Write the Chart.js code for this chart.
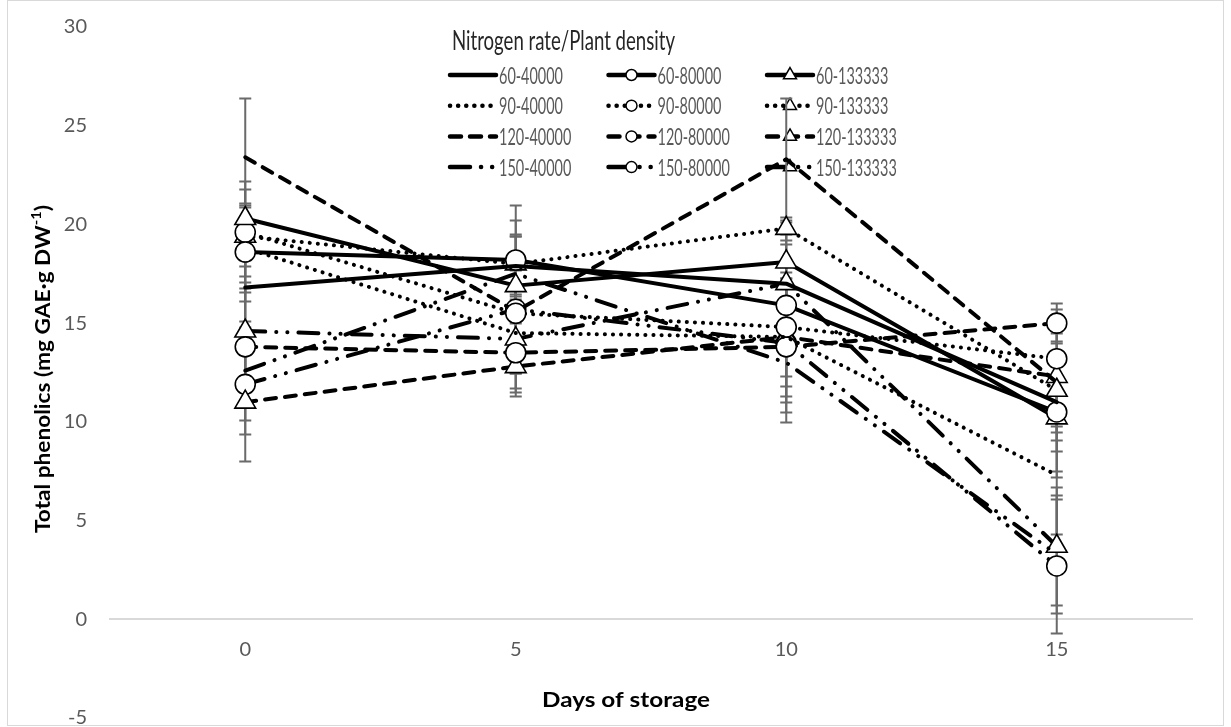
<!DOCTYPE html>
<html>
<head>
<meta charset="utf-8">
<script src="https://cdn.jsdelivr.net/npm/chart.js@4.4.1/dist/chart.umd.min.js"></script>
<style>
  html, body { margin: 0; padding: 0; background: #fff; }
  #wrap { position: relative; width: 1231px; height: 727px; }
</style>
</head>
<body>
<div id="wrap"><canvas id="phenolicsChart"></canvas></div>
<script>
// days of storage (categories)
const days = ['0', '5', '10', '15'];
const yMin = -5, yMax = 30, yStep = 5;

const legendTitle = 'Nitrogen rate/Plant density';
const seriesNames = [
  '60-40000', '60-80000', '60-133333',
  '90-40000', '90-80000', '90-133333',
  '120-40000', '120-80000', '120-133333',
  '150-40000', '150-80000', '150-133333'
];

// total phenolics
const n60_40000 = [16.8, 17.9, 17.0, 11.0];
const n60_80000 = [18.6, 18.2, 15.9, 10.5];
const n60_133333 = [20.3, 16.9, 18.1, 10.2];
const n90_40000 = [18.8, 14.5, 14.3, 7.3];
const n90_80000 = [19.6, 15.5, 14.8, 13.2];
const n90_133333 = [19.4, 18.0, 19.8, 11.6];
const n120_40000 = [23.4, 15.6, 23.3, 12.0];
const n120_80000 = [13.8, 13.5, 13.8, 15.0];
const n120_133333 = [11.0, 12.8, 14.3, 12.3];
const n150_40000 = [12.6, 17.5, 13.0, 3.3];
const n150_80000 = [11.9, 15.7, 14.0, 2.7];
const n150_133333 = [14.6, 14.2, 17.0, 3.7];

// error bar half-lengths
const e60_40000 = [2.0, 1.5, 2.5, 2.5];
const e60_80000 = [2.5, 2.0, 2.0, 3.0];
const e60_133333 = [1.9, 2.5, 2.0, 3.0];
const e90_40000 = [2.2, 2.0, 2.5, 3.0];
const e90_80000 = [2.2, 3.0, 2.5, 2.5];
const e90_133333 = [1.5, 3.0, 0.6, 2.5];
const e120_40000 = [3.0, 2.5, 3.1, 2.5];
const e120_80000 = [3.0, 2.0, 3.8, 1.0];
const e120_133333 = [3.0, 1.5, 3.0, 2.5];
const e150_40000 = [2.5, 2.0, 2.5, 3.0];
const e150_80000 = [2.5, 2.0, 3.0, 3.4];
const e150_133333 = [2.5, 2.5, 2.0, 3.0];

const values = [n60_40000, n60_80000, n60_133333, n90_40000, n90_80000, n90_133333,
  n120_40000, n120_80000, n120_133333, n150_40000, n150_80000, n150_133333];
const errors = [e60_40000, e60_80000, e60_133333, e90_40000, e90_80000, e90_133333,
  e120_40000, e120_80000, e120_133333, e150_40000, e150_80000, e150_133333];

// line style by nitrogen rate, marker by plant density
const dashByRate = { '60': [], '90': [0.1, 8], '120': [11, 9], '150': [20, 11, 0.1, 11, 0.1, 11] };
const markerByDensity = { '40000': false, '80000': 'circle', '133333': 'triangle' };

const datasets = seriesNames.map((name, i) => {
  const [rate, density] = name.split('-');
  const marker = markerByDensity[density];
  return {
    label: name,
    data: values[i],
    errors: errors[i],
    borderColor: '#000',
    backgroundColor: '#fff',
    borderWidth: 4,
    borderDash: dashByRate[rate],
    borderCapStyle: 'round',
    borderJoinStyle: 'round',
    pointStyle: marker || 'circle',
    pointRadius: marker === 'triangle' ? 12 : (marker ? 10 : 0),
    pointBorderWidth: 1.6,
    pointBackgroundColor: '#fff',
    pointBorderColor: '#000',
    tension: 0
  };
});

function squeezedText(ctx, text, x, y, font, color, sx, align) {
  ctx.save();
  ctx.font = font;
  ctx.fillStyle = color;
  ctx.textBaseline = 'middle';
  ctx.textAlign = 'left';
  const w = ctx.measureText(text).width * sx;
  let x0 = x;
  if (align === 'center') x0 = x - w / 2;
  ctx.translate(x0, y);
  ctx.scale(sx, 1);
  ctx.fillText(text, 0, 0);
  ctx.restore();
  return w;
}

function drawMarker(ctx, style, x, y, r) {
  ctx.beginPath();
  if (style === 'circle') {
    ctx.arc(x, y, r, 0, Math.PI * 2);
  } else {
    ctx.moveTo(x, y - r);
    ctx.lineTo(x + r * Math.sin(Math.PI * 2 / 3), y + r / 2);
    ctx.lineTo(x - r * Math.sin(Math.PI * 2 / 3), y + r / 2);
    ctx.closePath();
  }
  ctx.fillStyle = '#fff';
  ctx.fill();
  ctx.lineWidth = 1.5;
  ctx.strokeStyle = '#000';
  ctx.setLineDash([]);
  ctx.stroke();
}

// plot box of the original chart
const plotBox = { left: 110, right: 1192, top: 27, bottom: 718 };

const chartDecor = {
  id: 'chartDecor',
  afterLayout(chart) {
    const area = chart.chartArea;
    Object.assign(area, plotBox);
    area.width = plotBox.right - plotBox.left;
    area.height = plotBox.bottom - plotBox.top;
    const x = chart.scales.x, y = chart.scales.y;
    y.top = plotBox.top; y.bottom = plotBox.bottom; y.height = area.height;
    y.right = plotBox.left; y.left = plotBox.left - 100; y.width = 100;
    x.left = plotBox.left; x.right = plotBox.right; x.width = area.width;
    y.configure();
    x.configure();
  },
  beforeDraw(chart) {
    const ctx = chart.ctx;
    ctx.save();
    ctx.strokeStyle = '#d9d9d9';
    ctx.lineWidth = 1;
    ctx.strokeRect(7.5, 0.5, 1216, 725);
    ctx.restore();
  },
  beforeDatasetsDraw(chart) {
    const ctx = chart.ctx;
    // legend sits under the data, like in the original
    ctx.save();
    ctx.font = '26px Lato';
    const titleSx = 223 / ctx.measureText(legendTitle).width;
    squeezedText(ctx, legendTitle, 452, 42, '26px Lato', '#262626', titleSx, 'left');
    ctx.font = '24px Lato';
    const labelSx = 64 / ctx.measureText('60-40000').width;
    chart.data.datasets.forEach((ds, i) => {
      const row = Math.floor(i / 3), col = i % 3;
      const x0 = 448 + col * 158.5;
      const y0 = 75 + row * 30.7;
      ctx.save();
      ctx.strokeStyle = '#000';
      ctx.lineWidth = 4.5;
      ctx.lineCap = 'round';
      ctx.setLineDash(ds.borderDash);
      ctx.beginPath();
      ctx.moveTo(x0 + 2, y0);
      ctx.lineTo(x0 + 48, y0);
      ctx.stroke();
      ctx.restore();
      if (ds.pointRadius > 0) {
        drawMarker(ctx, ds.pointStyle, x0 + 25, y0, ds.pointStyle === 'triangle' ? 7.5 : 5.5);
      }
      squeezedText(ctx, ds.label, x0 + 51, y0 + 1, '24px Lato', '#595959', labelSx, 'left');
    });
    ctx.restore();

    // error bars
    const y = chart.scales.y;
    ctx.save();
    ctx.strokeStyle = '#6a6a6a';
    ctx.lineWidth = 2;
    chart.data.datasets.forEach((ds, i) => {
      const meta = chart.getDatasetMeta(i);
      meta.data.forEach((pt, j) => {
        const v = ds.data[j], e = ds.errors[j];
        const top = Math.round(y.getPixelForValue(v + e)) + 0.5;
        const bot = Math.round(y.getPixelForValue(v - e)) + 0.5;
        ctx.beginPath();
        ctx.moveTo(pt.x, top); ctx.lineTo(pt.x, bot);
        ctx.moveTo(pt.x - 6, top); ctx.lineTo(pt.x + 6, top);
        ctx.moveTo(pt.x - 6, bot); ctx.lineTo(pt.x + 6, bot);
        ctx.stroke();
      });
    });
    ctx.restore();
  },
  afterDraw(chart) {
    const ctx = chart.ctx;
    // x axis title
    ctx.save();
    ctx.font = 'bold 21px Lato';
    const xt = 'Days of storage';
    const xSx = 168 / ctx.measureText(xt).width;
    squeezedText(ctx, xt, 626, 700, 'bold 21px Lato', '#000', xSx, 'center');
    ctx.restore();

    // y axis title with superscript
    const main = 'Total phenolics (mg GAE\u00B7g DW';
    const sup = '-1';
    const tail = ')';
    ctx.save();
    ctx.font = 'bold 20px Lato';
    const wMain = ctx.measureText(main).width;
    const wTail = ctx.measureText(tail).width;
    ctx.font = 'bold 13px Lato';
    const wSup = ctx.measureText(sup).width;
    const total = wMain + wSup + wTail;
    const sx = 328 / total;
    ctx.translate(44, 369);
    ctx.rotate(-Math.PI / 2);
    ctx.scale(sx, 1);
    ctx.fillStyle = '#000';
    ctx.textBaseline = 'middle';
    ctx.textAlign = 'left';
    let x = -total / 2;
    ctx.font = 'bold 20px Lato';
    ctx.fillText(main, x, 0);
    x += wMain;
    ctx.font = 'bold 13px Lato';
    ctx.fillText(sup, x, -7);
    x += wSup;
    ctx.font = 'bold 20px Lato';
    ctx.fillText(tail, x, 0);
    ctx.restore();
  }
};

new Chart(document.getElementById('phenolicsChart'), {
  type: 'line',
  data: { labels: days, datasets: datasets },
  options: {
    responsive: true,
    maintainAspectRatio: false,
    animation: false,
    events: [],
    plugins: {
      legend: { display: false },
      tooltip: { enabled: false }
    },
    scales: {
      x: {
        type: 'category',
        offset: true,
        position: { y: 0 },
        grid: { display: false, drawTicks: false },
        border: { display: true, color: '#d9d9d9', width: 2 },
        ticks: { color: '#595959', font: { family: 'Lato', size: 20 }, padding: 18 }
      },
      y: {
        min: yMin,
        max: yMax,
        grid: { display: false, drawTicks: false },
        border: { display: false },
        ticks: { stepSize: yStep, color: '#595959', font: { family: 'Lato', size: 20 }, padding: 23 },
        afterFit(scale) { scale.width = 100; }
      }
    }
  },
  plugins: [chartDecor]
});
</script>
</body>
</html>
